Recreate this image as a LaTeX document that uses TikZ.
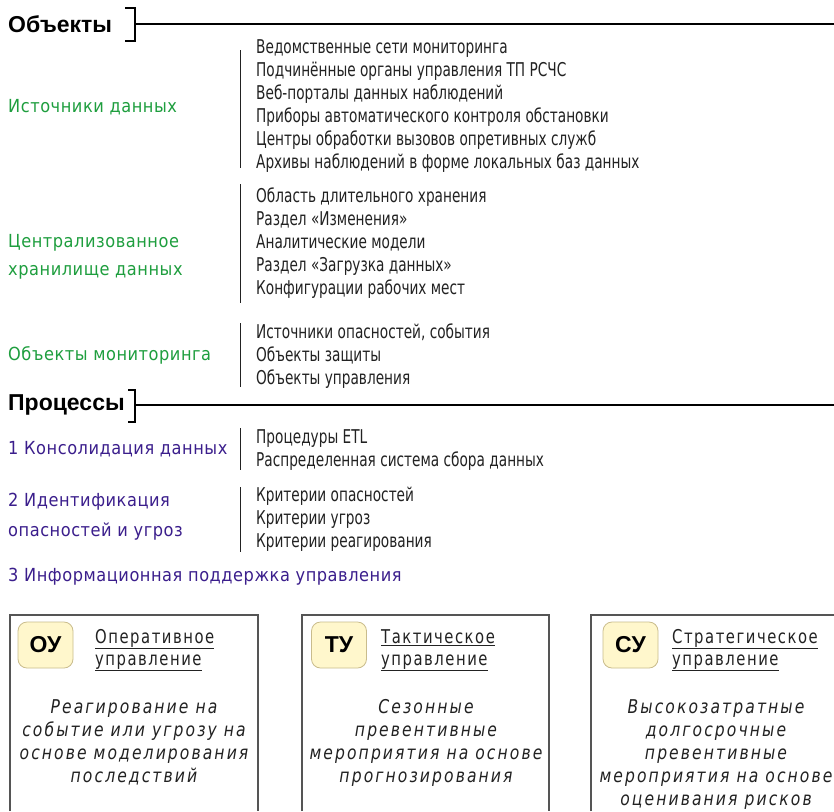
\documentclass[tikz,border=0pt]{standalone}
\usepackage{fontspec}
\setmainfont{DejaVu Sans}
\newfontfamily\gost[FakeStretch=0.72]{DejaVu Sans}
\newfontfamily\gostlab[FakeStretch=0.9,LetterSpace=3]{DejaVu Sans}
\newfontfamily\gosttitle[FakeStretch=0.78,LetterSpace=8]{DejaVu Sans}
\newfontfamily\gostit[FakeStretch=0.82,LetterSpace=11]{DejaVu Sans Oblique}
\newfontfamily\headfont{Liberation Sans}
\definecolor{grn}{HTML}{1E9E3E}
\definecolor{prp}{HTML}{3B1E8C}
\definecolor{badgefill}{HTML}{FFF7CC}
\definecolor{badgedraw}{HTML}{C9BC8C}
\definecolor{boxdraw}{HTML}{555555}
\definecolor{txt}{HTML}{222222}
\begin{document}
\begin{tikzpicture}[x=1pt,y=-1pt,
  heading/.style={anchor=west,inner sep=0pt,font=\headfont\bfseries\fontsize{23}{26}\selectfont,text=black},
  greenlab/.style={anchor=west,inner sep=0pt,align=left,font=\gostlab\fontsize{18}{28}\selectfont,text=grn},
  purplab/.style={anchor=west,inner sep=0pt,align=left,font=\gostlab\fontsize{18}{30}\selectfont,text=prp},
  listtxt/.style={anchor=west,inner sep=0pt,align=left,font=\gost\fontsize{19}{23}\selectfont,text=txt},
  sep/.style={draw=txt,line width=0.9pt},
  rule/.style={draw=black,line width=1.3pt},
  frame/.style={draw=boxdraw,line width=1.1pt},
  badge/.style={draw=badgedraw,fill=badgefill,rounded corners=9pt,line width=0.8pt,minimum width=55pt,minimum height=46pt,inner sep=0pt,font=\headfont\bfseries\fontsize{23}{24}\selectfont},
  boxtitle/.style={anchor=north west,inner sep=0pt,align=left,font=\gosttitle\fontsize{19}{22}\selectfont,text=txt},
  boxbody/.style={anchor=north,inner sep=0pt,align=center,font=\gostit\fontsize{19}{23}\selectfont,text=txt}
]
\useasboundingbox (0,0) rectangle (834,811);
\fill[white] (0,0) rectangle (834,811);

% --- Objects heading
\node[heading] (hObj) at (8,24) {Объекты};
\draw[rule] (125,8) -- (135,8) -- (135,41) -- (125,41);
\draw[rule] (135,24) -- (834,24);

% Sources
\node[greenlab] (lSrc) at (8,107) {Источники данных};
\draw[sep] (240,50) -- (240,168);
\node[listtxt] (tSrc) at (256,106) {Ведомственные сети мониторинга\\Подчинённые органы управления ТП РСЧС\\Веб-порталы данных наблюдений\\Приборы автоматического контроля обстановки\\Центры обработки вызовов опретивных служб\\Архивы наблюдений в форме локальных баз данных};

% Storage
\node[greenlab] (lSto) at (8,257) {Централизованное\\хранилище данных};
\draw[sep] (240,184) -- (240,303);
\node[listtxt] (tSto) at (256,243.5) {Область длительного хранения\\Раздел «Изменения»\\Аналитические модели\\Раздел «Загрузка данных»\\Конфигурации рабочих мест};

% Monitoring objects
\node[greenlab] (lMon) at (8,355) {Объекты мониторинга};
\draw[sep] (240,323) -- (240,387);
\node[listtxt] (tMon) at (256,356) {Источники опасностей, события\\Объекты защиты\\Объекты управления};

% --- Processes heading
\node[heading] (hProc) at (8,405) {Процессы};
\draw[rule] (128,390) -- (135,390) -- (135,422) -- (128,422);
\draw[rule] (135,405) -- (834,405);

\node[purplab] (p1) at (8,449) {1 Консолидация данных};
\draw[sep] (240,428) -- (240,470);
\node[listtxt] (t1) at (256,450.5) {Процедуры ETL\\Распределенная система сбора данных};

\node[purplab] (p2) at (8,517) {2 Идентификация\\опасностей и угроз};
\draw[sep] (240,487) -- (240,552);
\node[listtxt] (t2) at (256,519) {Критерии опасностей\\Критерии угроз\\Критерии реагирования};

\node[purplab] (p3) at (8,577) {3 Информационная поддержка управления};

% --- Boxes
\draw[frame] (10,811) -- (10,615) -- (258,615) -- (258,811);
\draw[frame] (302,811) -- (302,615) -- (549,615) -- (549,811);
\draw[frame] (591,811) -- (591,615) -- (836,615);

\node[badge] (bOU) at (45.5,645) {ОУ};
\node[boxtitle] (tOU) at (95,629) {\underline{Оперативное}\\\underline{управление}};
\node[boxbody] (dOU) at (134,699) {Реагирование на\\событие или угрозу на\\основе моделирования\\последствий};

\node[badge] (bTU) at (339,645) {ТУ};
\node[boxtitle] (tTU) at (381,629) {\underline{Тактическое}\\\underline{управление}};
\node[boxbody] (dTU) at (426,699) {Сезонные\\превентивные\\мероприятия на основе\\прогнозирования};

\node[badge] (bSU) at (630.5,645) {СУ};
\node[boxtitle] (tSU) at (672,629) {\underline{Стратегическое}\\\underline{управление}};
\node[boxbody] (dSU) at (716,699) {Высокозатратные\\долгосрочные\\превентивные\\мероприятия на основе\\оценивания рисков};
\end{tikzpicture}
\end{document}
